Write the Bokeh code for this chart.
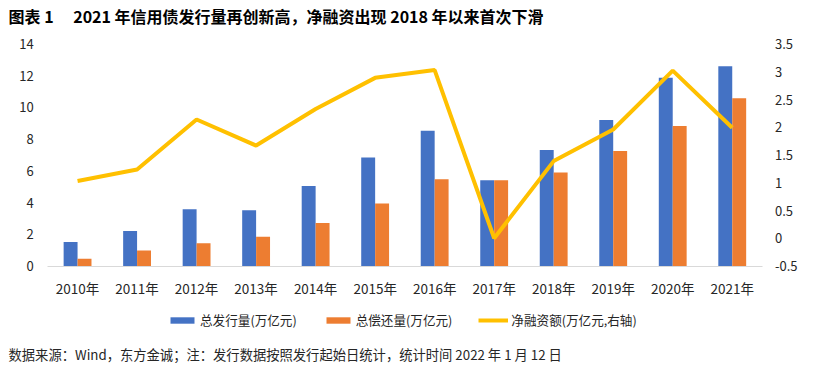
from bokeh.plotting import figure
from bokeh.models import (Range1d, LinearAxis, FixedTicker, Legend, LegendItem,
                          Label, ColumnDataSource)
from bokeh.transform import dodge
from bokeh.embed import file_html
from bokeh.resources import INLINE

years = ["2010年", "2011年", "2012年", "2013年", "2014年", "2015年",
         "2016年", "2017年", "2018年", "2019年", "2020年", "2021年"]
issuance = [1.51, 2.20, 3.58, 3.51, 5.05, 6.85, 8.53, 5.41, 7.31, 9.21, 11.87, 12.60]
repayment = [0.46, 0.98, 1.44, 1.85, 2.71, 3.94, 5.47, 5.41, 5.90, 7.25, 8.83, 10.58]
net_financing = [1.03, 1.24, 2.14, 1.67, 2.33, 2.89, 3.03, 0.00, 1.39, 1.96, 3.02, 1.99]
left_ticks = [0, 2, 4, 6, 8, 10, 12, 14]
right_ticks = [-0.5, 0, 0.5, 1, 1.5, 2, 2.5, 3, 3.5]

FONT = "Noto Sans CJK SC"
TXT = "#262626"

# layout (pixels): canvas is the frame; plot area inside it
W, H = 833, 371
PX_LEFT, PX_RIGHT = 47.3, 761.5      # plot area left/right edge
PX_TOP, PX_BOTTOM = 43.5, 265.5      # plot area top/bottom edge
n = len(years)
xs = (PX_RIGHT - PX_LEFT) / n
x0 = -0.5 - PX_LEFT / xs
x1 = x0 + W / xs
L_LO, L_HI = left_ticks[0], left_ticks[-1]
R_LO, R_HI = right_ticks[0], right_ticks[-1]
ly = (PX_BOTTOM - PX_TOP) / (L_HI - L_LO)
ry = (PX_BOTTOM - PX_TOP) / (R_HI - R_LO)

src = ColumnDataSource(dict(x=list(range(n)), issuance=issuance,
                            repayment=repayment, net=net_financing))

p = figure(width=W, height=H, output_backend="svg", toolbar_location=None,
           x_range=Range1d(x0, x1),
           y_range=Range1d(L_LO - (H - PX_BOTTOM) / ly, L_HI + PX_TOP / ly),
           min_border=0, x_axis_location=None, y_axis_location=None)
p.outline_line_color = None
p.grid.visible = False
p.background_fill_color = "white"
p.border_fill_color = "white"
p.extra_y_ranges = {"right": Range1d(R_LO - (H - PX_BOTTOM) / ry, R_HI + PX_TOP / ry)}

b1 = p.vbar(x=dodge("x", -0.117, range=p.x_range), top="issuance", width=0.234,
            source=src, fill_color="#4472C4", line_color=None)
b2 = p.vbar(x=dodge("x", 0.117, range=p.x_range), top="repayment", width=0.234,
            source=src, fill_color="#ED7D31", line_color=None)
l1 = p.line(x="x", y="net", source=src, y_range_name="right",
            line_color="#FFC000", line_width=4)


def style_axis(ax, standoff, size="13px"):
    ax.major_tick_line_color = None
    ax.minor_tick_line_color = None
    ax.major_tick_out = 0
    ax.major_tick_in = 0
    ax.minor_tick_out = 0
    ax.minor_tick_in = 0
    ax.major_label_standoff = standoff
    ax.major_label_text_font = FONT
    ax.major_label_text_font_size = size
    ax.major_label_text_color = TXT


xa = LinearAxis(fixed_location=L_LO, bounds=(-0.5, n - 0.5),
                ticker=FixedTicker(ticks=list(range(n))))
xa.major_label_overrides = {i: y for i, y in enumerate(years)}
xa.axis_line_color = "#D9D9D9"
style_axis(xa, 12, "13.5px")
p.add_layout(xa, "below")

ya = LinearAxis(fixed_location=-0.5, bounds=(L_LO, L_HI),
                ticker=FixedTicker(ticks=left_ticks))
ya.axis_line_color = None
style_axis(ya, 14)
p.add_layout(ya, "left")

ra = LinearAxis(y_range_name="right", fixed_location=n - 0.5, bounds=(R_LO, R_HI),
                ticker=FixedTicker(ticks=right_ticks))
ra.major_label_overrides = {t: ("%g" % t) for t in right_ticks}
ra.axis_line_color = None
style_axis(ra, 13)
p.add_layout(ra, "right")

legend = Legend(items=[LegendItem(label="总发行量(万亿元)", renderers=[b1]),
                       LegendItem(label="总偿还量(万亿元)", renderers=[b2]),
                       LegendItem(label="净融资额(万亿元,右轴)", renderers=[l1])],
                orientation="horizontal", location=(167, 42),
                glyph_width=30, glyph_height=8, label_standoff=3, spacing=26,
                padding=0, margin=0, border_line_color=None,
                background_fill_alpha=0, label_text_font=FONT,
                label_text_font_size="12.6px", label_text_color=TXT,
                label_height=16)
p.add_layout(legend, "center")

title = Label(x=8, y=H - 15.5, x_units="screen", y_units="screen",
              text="图表 1\u3000\u00a02021 年信用债发行量再创新高，净融资出现 2018 年以来首次下滑",
              text_font=FONT, text_font_style="bold", text_font_size="16px",
              text_color="#000000", text_baseline="middle")
p.add_layout(title)

note = Label(x=8, y=H - 354, x_units="screen", y_units="screen",
             text="数据来源：Wind，东方金诚；注：发行数据按照发行起始日统计，统计时间 2022 年 1 月 12 日",
             text_font=FONT, text_font_size="13.3px", text_color=TXT,
             text_baseline="middle")
p.add_layout(note)

open("out.html", "w").write(file_html(p, INLINE))
